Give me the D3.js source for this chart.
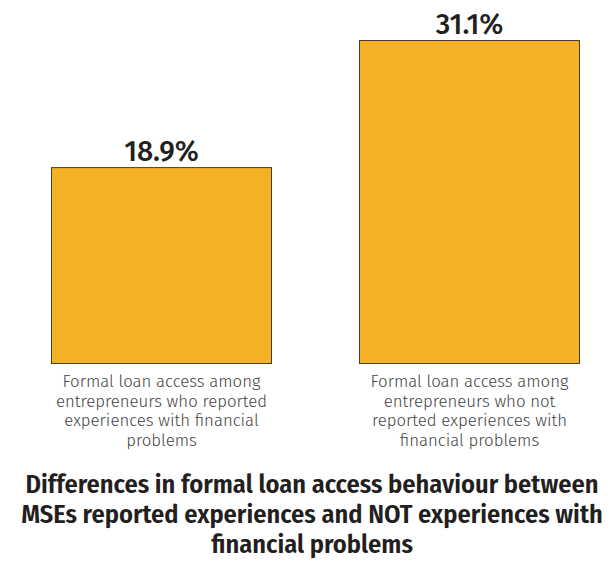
<!DOCTYPE html>
<html>
<head>
<meta charset="utf-8">
<script src="https://cdn.jsdelivr.net/npm/d3@7"></script>
<style>
  html, body { margin: 0; padding: 0; background: #fff; }
  svg { display: block; }
</style>
</head>
<body>
<svg id="chart" width="610" height="561"></svg>
<script>
// Share of entrepreneurs with formal loan access, by group
const categories = ["reported", "notReported"];
const values = [18.9, 31.1];
const categoryLabels = [
  ["Formal loan access among", "entrepreneurs who reported", "experiences with financial", "problems"],
  ["Formal loan access among", "entrepreneurs who not", "reported experiences with", "financial problems"]
];
const titleLines = [
  "Differences in formal loan access behaviour between",
  "MSEs reported experiences and NOT experiences with",
  "financial problems"
];

const svg = d3.select("#chart");

const x = d3.scaleBand()
  .domain(categories)
  .range([51, 580])
  .paddingInner(87 / 308)
  .paddingOuter(0);

const y = d3.scaleLinear()
  .domain([0, d3.max(values)])
  .range([364, 40]);

const data = categories.map((c, i) => ({ key: c, value: values[i], label: categoryLabels[i] }));

// bars
svg.append("g").selectAll("rect")
  .data(data)
  .join("rect")
  .attr("x", d => x(d.key) + 0.5)
  .attr("y", d => y(d.value) + 0.5)
  .attr("width", x.bandwidth() - 1)
  .attr("height", d => y(0) - y(d.value) - 1)
  .attr("fill", "#F4B125")
  .attr("stroke", "#4a3d26")
  .attr("stroke-width", 1);

// value labels
svg.append("g").selectAll("text")
  .data(data)
  .join("text")
  .attr("x", d => x(d.key) + x.bandwidth() / 2)
  .attr("y", d => y(d.value) - 6)
  .attr("text-anchor", "middle")
  .attr("font-family", "'Fira Sans', 'Open Sans', sans-serif")
  .attr("font-weight", 500)
  .attr("font-size", 28.5)
  .attr("fill", "#231f20")
  .text(d => d.value.toFixed(1) + "%");

// category labels (x axis)
const labelG = svg.append("g").selectAll("text")
  .data(data)
  .join("text")
  .attr("text-anchor", "middle")
  .attr("font-family", "'Fira Sans', 'Open Sans', sans-serif")
  .attr("font-weight", 300)
  .attr("font-size", 16.8)
  .attr("fill", "#444");

labelG.selectAll("tspan")
  .data(d => d.label.map(l => ({ line: l, cx: x(d.key) + x.bandwidth() / 2 })))
  .join("tspan")
  .attr("x", d => d.cx)
  .attr("y", (d, i) => 387 + i * 19.5)
  .text(d => d.line);

// title
svg.append("text")
  .attr("text-anchor", "middle")
  .attr("font-family", "'Fira Sans Condensed', 'Liberation Sans Narrow', 'Roboto', sans-serif")
  .attr("font-weight", 600)
  .attr("font-size", 26.3)
  .attr("fill", "#231f20")
  .selectAll("tspan")
  .data(titleLines)
  .join("tspan")
  .attr("x", 312)
  .attr("y", (d, i) => 493 + i * 30)
  .text(d => d);
</script>
</body>
</html>
